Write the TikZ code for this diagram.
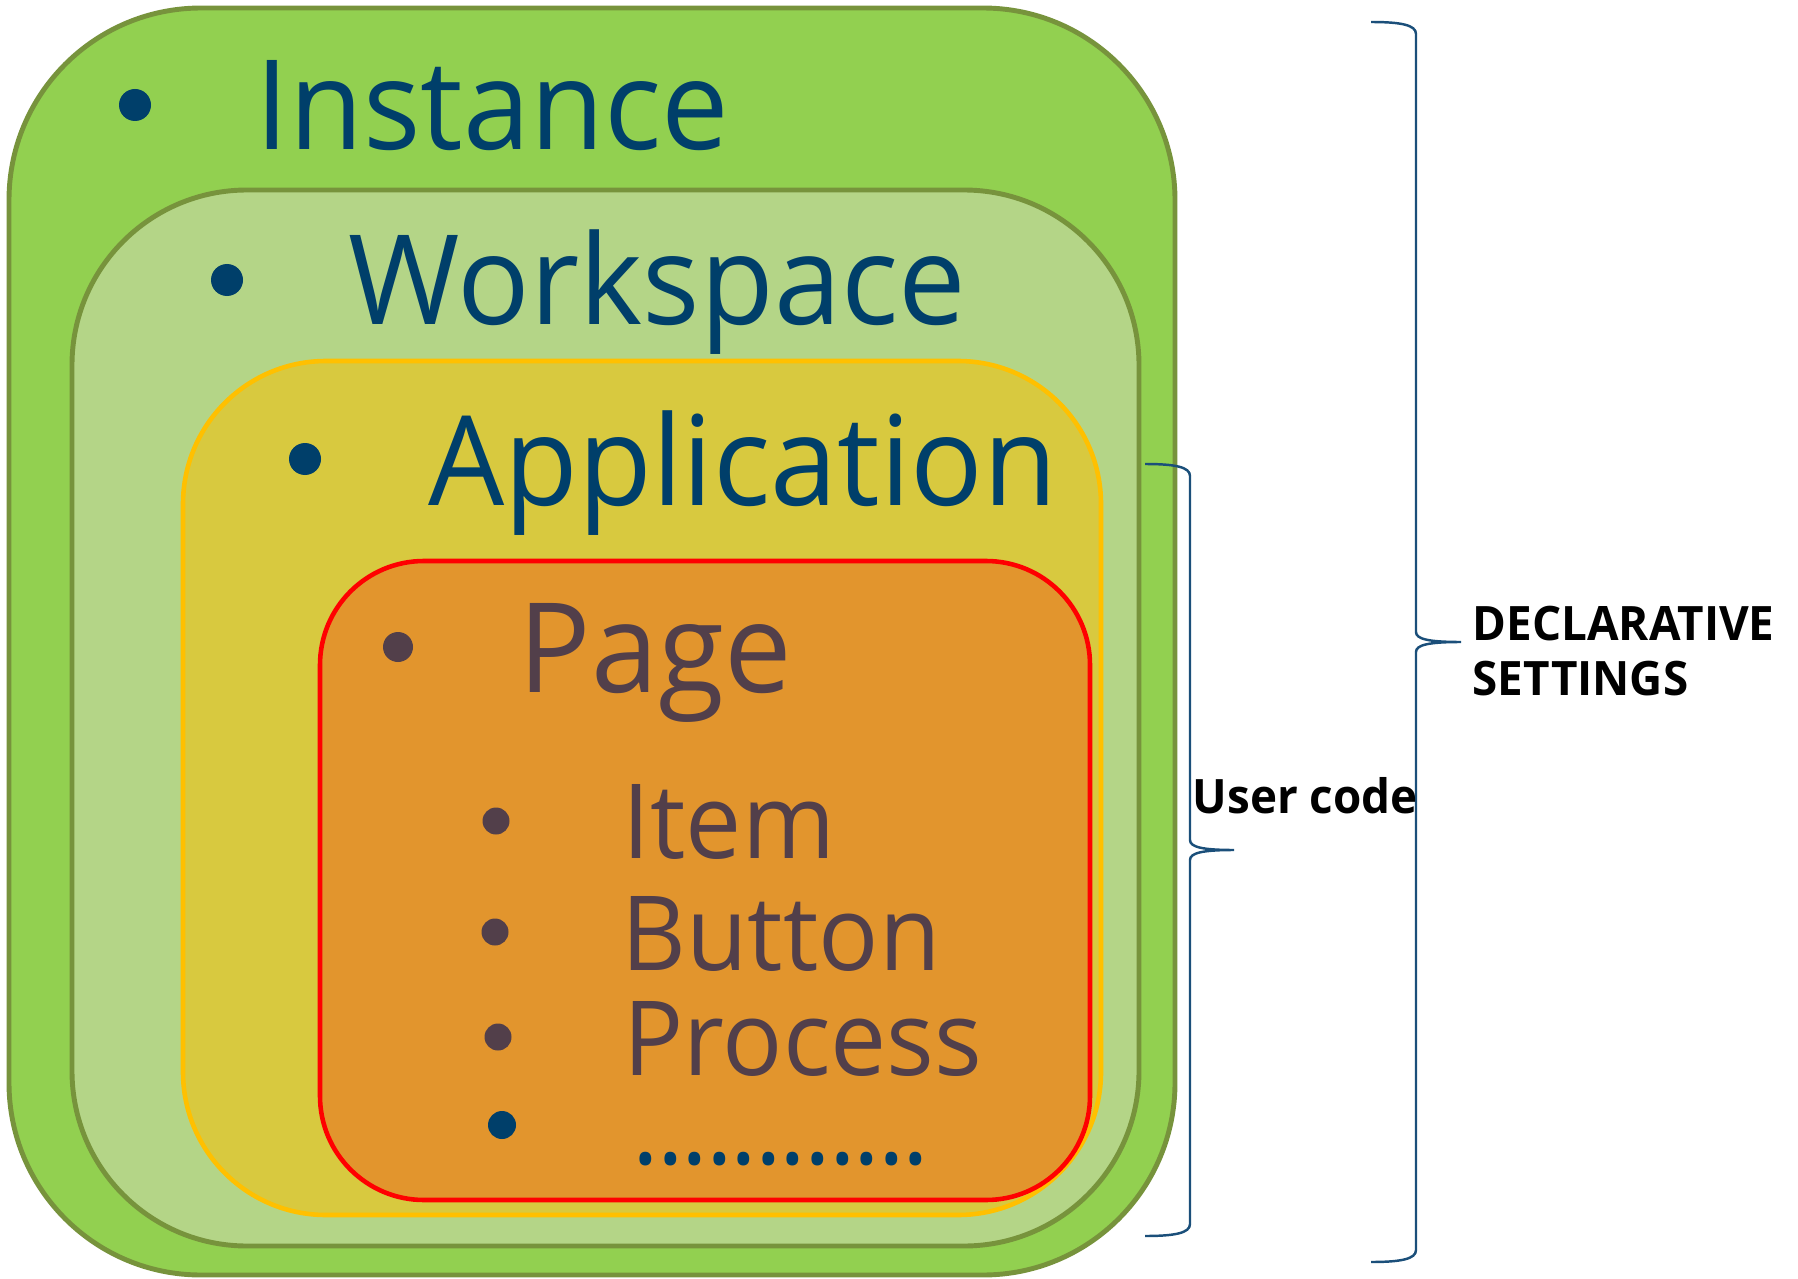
\documentclass[tikz,border=0pt]{standalone}
\usepackage{fontspec}
\setmainfont[FakeStretch=0.965]{Open Sans}
\usepackage{tikz}
\usetikzlibrary{positioning,calc}
\usepackage{xcolor}

\definecolor{instgreen}{HTML}{92D050}
\definecolor{wsgreen}{HTML}{B4D587}
\definecolor{olive}{HTML}{77933C}
\definecolor{appyellow}{HTML}{D8C93F}
\definecolor{appline}{HTML}{FFC000}
\definecolor{pageorange}{HTML}{E2952D}
\definecolor{navytext}{HTML}{003F6A}
\definecolor{plumtext}{HTML}{523F4A}
\definecolor{braceblue}{HTML}{1B4F7A}

\begin{document}
\begin{tikzpicture}[
			instbox/.style={draw=olive, fill=instgreen, line width=1.4pt, rounded corners=1.92cm},
			wsbox/.style={draw=olive, fill=wsgreen, line width=1.4pt, rounded corners=1.75cm},
			appbox/.style={draw=appline, fill=appyellow, line width=1.3pt, rounded corners=1.43cm},
			pagebox/.style={draw=red, fill=pageorange, line width=1.3pt, rounded corners=1.04cm},
			level/.style={anchor=base west, inner sep=0pt, text=navytext,
				font=\fontsize{35.5}{40}\selectfont},
			sublevel/.style={anchor=base west, inner sep=0pt, text=plumtext,
				font=\fontsize{29.5}{30}\selectfont},
			dot/.style={circle, inner sep=0pt, minimum size=0.32cm, fill=navytext},
			subdot/.style={circle, inner sep=0pt, minimum size=0.27cm, fill=plumtext},
			bracket/.style={draw=braceblue, line width=0.7pt},
			note/.style={inner sep=0pt, font=\bfseries\fontsize{13.5}{15.65}\selectfont, align=left}
			]
			\useasboundingbox (0,0) rectangle (17.98,-12.79);
			
			\draw[instbox] (0.09,-0.08) rectangle (11.75,-12.75);
			\draw[wsbox] (0.72,-1.90) rectangle (11.39,-12.46);
			\draw[appbox] (1.83,-3.61) rectangle (11.01,-12.15);
			\draw[pagebox] (3.20,-5.61) rectangle (10.90,-12.00);
			
			\node[dot] (instDot) at (1.35,-1.05) {};
			\node[level] (inst) at (2.55,-1.50) {Instance};
			\node[dot] (wsDot) at (2.27,-2.80) {};
			\node[level] (ws) at (3.48,-3.24) {Workspace};
			\node[dot] (appDot) at (3.05,-4.59) {};
			\node[level] (app) at (4.28,-5.05) {Application};
			\node[subdot, minimum size=0.30cm] (pageDot) at (3.98,-6.47) {};
			\node[level, text=plumtext] (page) at (5.18,-6.92) {Page};
			
			\node[subdot] (itemDot) at (4.96,-8.21) {};
			\node[sublevel] (item) at (6.22,-8.58) {Item};
			\node[subdot] (btnDot) at (4.95,-9.32) {};
			\node[sublevel] (btn) at (6.21,-9.70) {Button};
			\node[subdot] (procDot) at (4.98,-10.37) {};
			\node[sublevel] (proc) at (6.23,-10.75) {Process};
			\node[dot, minimum size=0.28cm] (moreDot) at (5.02,-11.25) {};
			\node[sublevel, text=navytext] (more) at (6.32,-11.64) {\addfontfeature{LetterSpace=-2}............};
			
			\draw[bracket] (11.45,-4.64) .. controls (11.75,-4.64) and (11.90,-4.67) .. (11.90,-4.76)
			-- (11.90,-8.40) .. controls (11.90,-8.47) and (12.02,-8.50) .. (12.34,-8.50)
			.. controls (12.02,-8.50) and (11.90,-8.53) .. (11.90,-8.60)
			-- (11.90,-12.24) .. controls (11.90,-12.33) and (11.75,-12.36) .. (11.45,-12.36);
			\draw[bracket] (13.71,-0.22) .. controls (14.01,-0.22) and (14.16,-0.25) .. (14.16,-0.34)
			-- (14.16,-6.32) .. controls (14.16,-6.39) and (14.28,-6.42) .. (14.61,-6.42)
			.. controls (14.28,-6.42) and (14.16,-6.45) .. (14.16,-6.52)
			-- (14.16,-12.50) .. controls (14.16,-12.59) and (14.01,-12.62) .. (13.71,-12.62);
			
			\node[note, anchor=base west] (user) at (11.92,-8.13) {User code};
			\node[note, anchor=west] (decl) at (14.72,-6.51) {DECLARATIVE\\SETTINGS};
		\end{tikzpicture}
\end{document}
